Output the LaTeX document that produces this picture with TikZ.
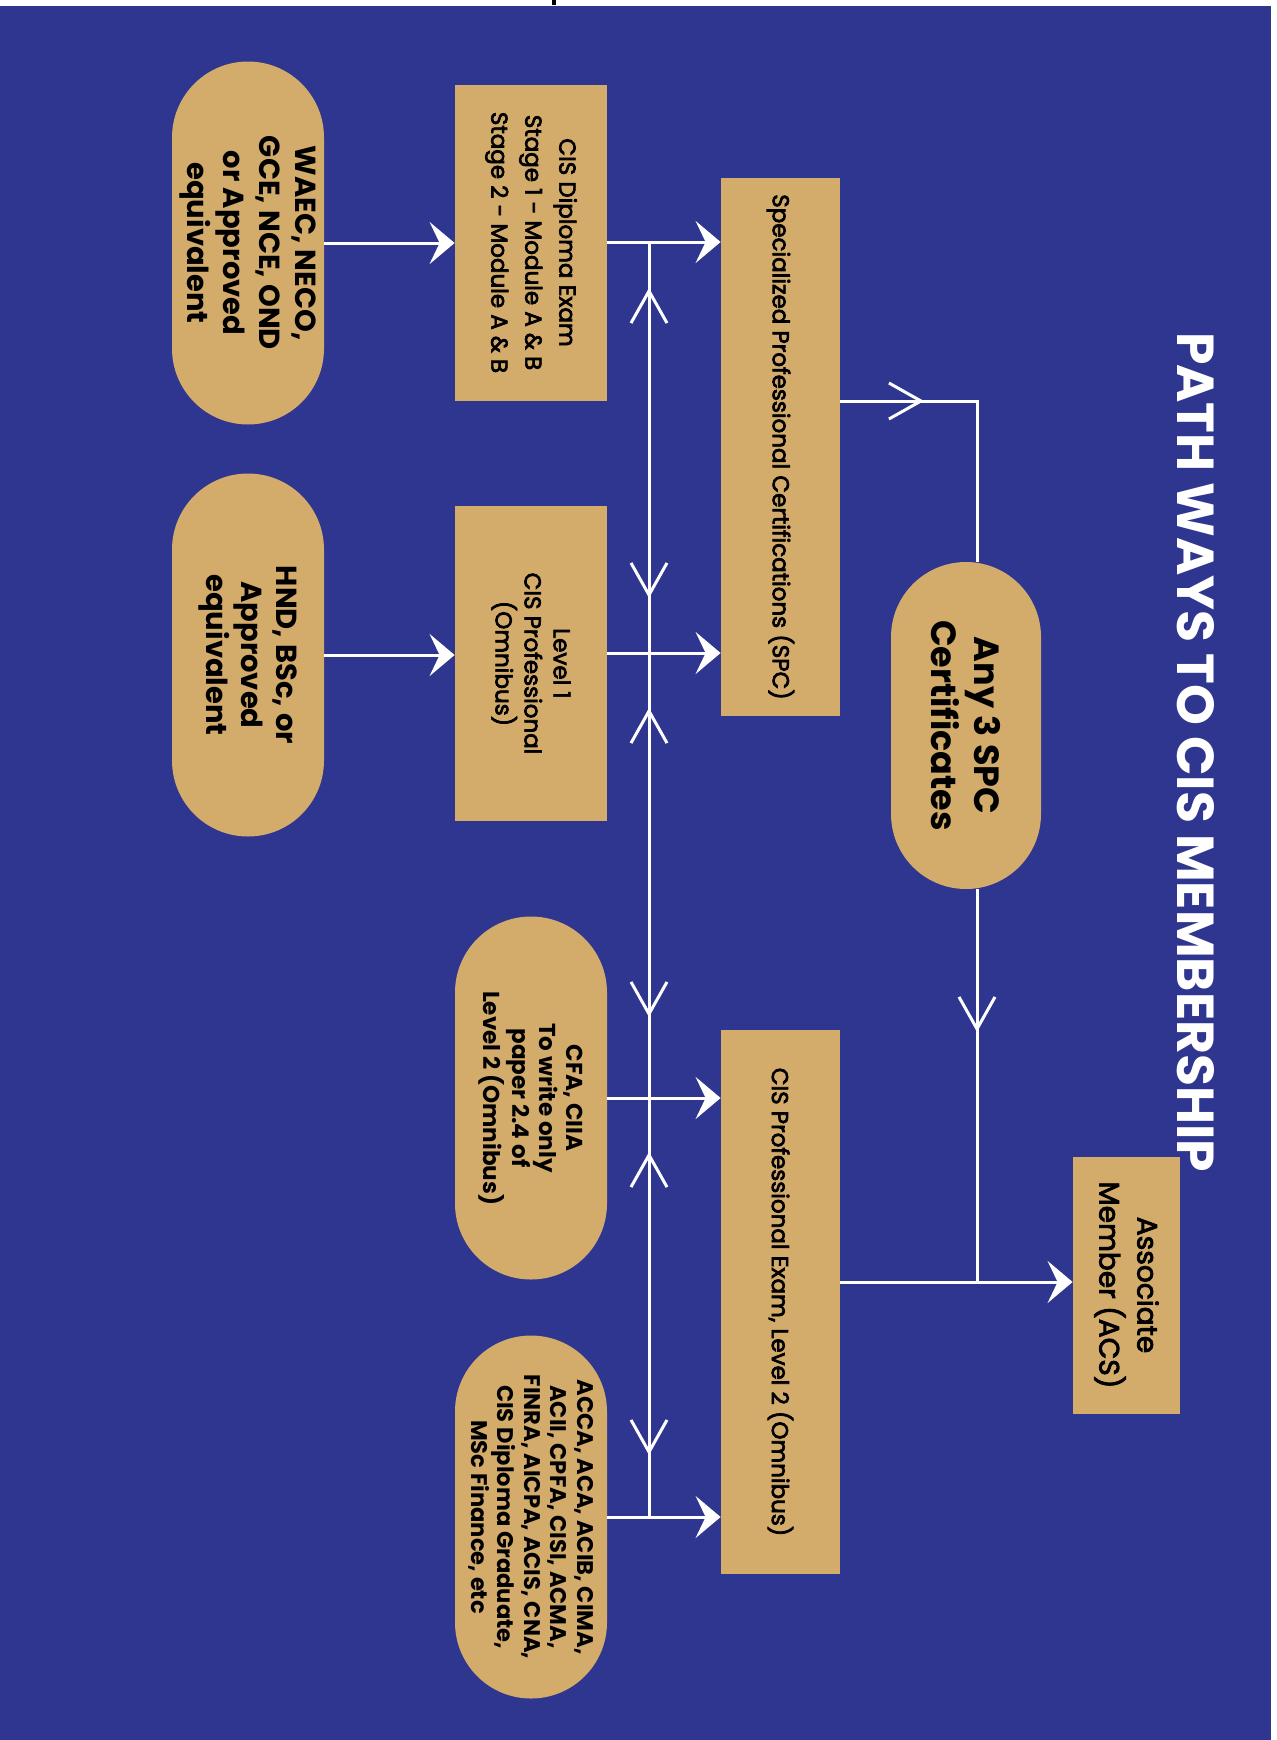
\documentclass[tikz,border=0pt]{standalone}
\usepackage{fontspec}
\setmainfont{Poppins}
\newfontfamily\medfont{Poppins}[FakeBold=3]
\usepackage{tikz}
\usetikzlibrary{arrows.meta,positioning,shapes.misc,calc}
\definecolor{pathblue}{RGB}{46,54,143}
\definecolor{softgold}{RGB}{211,171,106}
\tikzset{
  box/.style ={rectangle, fill=softgold, rotate=-90, align=center, inner sep=2pt,
               font=\medfont\fontsize{11.5}{14.5}\selectfont},
  pill/.style={rounded rectangle, fill=softgold, rotate=-90, align=center, inner sep=2pt,
               minimum width=185.5pt, minimum height=76pt, font=\fontsize{14.5}{18}\selectfont\bfseries},
  flow/.style={-{Stealth[length=12.5pt,width=21pt,inset=5pt]}, line width=1.5pt, draw=white},
  link/.style={line width=1.5pt, draw=white},
  vee/.style ={{Straight Barb[length=16pt,width=18pt]}-{Straight Barb[length=16pt,width=18pt]},
               line width=1.5pt, draw=white},
  vto/.style ={-{Straight Barb[length=16pt,width=18pt]}, line width=1.5pt, draw=white}
}
\begin{document}
\begin{tikzpicture}[x=0.5pt, y=-0.5pt,
  head/.style={text=white, rotate=-90, font=\fontsize{26}{30}\selectfont\bfseries}]
  \useasboundingbox (0,0) rectangle (1276,1740);
  \fill[pathblue] (0,6) rectangle (1271,1740);
  \fill[black] (552,0) rectangle (556,5);
  \node[head] (title) at (1196,752) {PATH WAYS TO CIS MEMBERSHIP};

  \node[pill] (waec) at (248,243) {WAEC, NECO,\\GCE, NCE, OND\\or Approved\\equivalent};
  \node[pill, font=\fontsize{14.5}{17.5}\selectfont\bfseries] (hnd) at (248,655) {HND, BSc, or\\Approved\\equivalent};
  \node[box, minimum width=158pt, minimum height=76pt, font=\medfont\fontsize{11.5}{17}\selectfont] (dip) at (531,242.5)
    {CIS Diploma Exam\\Stage 1 - Module A \& B\\Stage 2 - Module A \& B};
  \node[box, minimum width=157.5pt, minimum height=76pt] (lvl) at (531,663.5) {Level 1\\CIS Professional\\(Omnibus)};
  \node[pill, font=\fontsize{11.5}{13.5}\selectfont\bfseries] (cfa) at (531,1098)
    {CFA, CIIA\\To write only\\paper 2.4 of\\Level 2 (Omnibus)};
  \node[pill, font=\fontsize{11.3}{13.25}\selectfont\bfseries] (acca) at (531,1517)
    {ACCA, ACA, ACIB, CIMA,\\ACII, CPFA, CISI, ACMA,\\FINRA, AICPA, ACIS, CNA,\\CIS Diploma Graduate,\\MSc Finance, etc};
  \node[box, minimum width=269pt, minimum height=59.5pt] (spc) at (780.5,447) {Specialized Professional Certifications (SPC)};
  \node[box, minimum width=272pt, minimum height=59.5pt] (cisl2) at (780.5,1302) {CIS Professional Exam, Level 2 (Omnibus)};
  \node[pill, minimum width=167.5pt, minimum height=75pt, font=\fontsize{17.5}{21.5}\selectfont\bfseries] (any3) at (966,725.5)
    {Any 3 SPC\\Certificates};
  \node[box, minimum width=128.5pt, minimum height=53.5pt, font=\medfont\fontsize{14}{19}\selectfont] (acs) at (1126.5,1285)
    {Associate\\Member (ACS)};

  \coordinate (b1) at (649,242);
  \coordinate (b2) at (649,653);
  \coordinate (b3) at (649,1098);
  \coordinate (b4) at (649,1517);
  \coordinate (c1) at (977,401);
  \coordinate (c2) at (977,1282);

  \draw[flow] (waec.north) -- (waec.north -| dip.south);
  \draw[flow] (hnd.north) -- (hnd.north -| lvl.south);
  \draw[flow] (dip.north |- b1) -- (spc.south |- b1);
  \draw[flow] (lvl.north |- b2) -- (spc.south |- b2);
  \draw[flow] (cfa.north) -- (cfa.north -| cisl2.south);
  \draw[flow] (acca.north) -- (acca.north -| cisl2.south);
  \draw[link] (b1) -- (b4);
  \draw[vee, shorten <=23pt, shorten >=27.5pt] (b1) -- (b2);
  \draw[vee, shorten <=27.5pt, shorten >=40.5pt] (b2) -- (b3);
  \draw[vee, shorten <=27pt, shorten >=31pt] (b3) -- (b4);

  \draw[link] (spc.north |- c1) -- (c1) -- (c1 |- any3.west);
  \draw[vto, shorten >=26.5pt] (spc.north |- c1) -- (c1);
  \draw[link] (c1 |- any3.east) -- (c2);
  \draw[vto, shorten >=125pt] (c1 |- any3.east) -- (c2);
  \draw[flow] (cisl2.north |- c2) -- (acs.south |- c2);
\end{tikzpicture}
\end{document}
